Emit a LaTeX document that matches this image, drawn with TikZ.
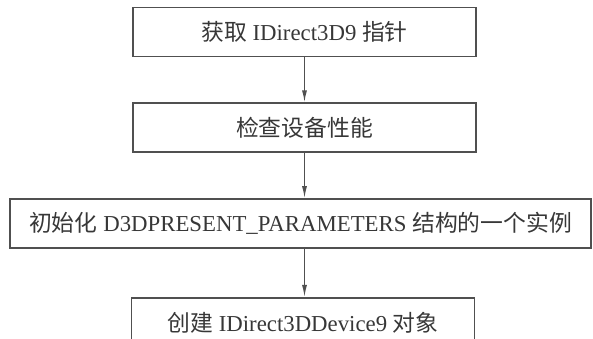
\documentclass[tikz,border=0pt]{standalone}
\usepackage{fontspec}
\setmainfont{Liberation Serif}
\newfontfamily\cjk{Noto Sans CJK SC}
\usepackage{tikz}
\usetikzlibrary{arrows.meta, positioning}
\definecolor{boxline}{RGB}{80,80,80}
\definecolor{boxtext}{RGB}{55,55,55}
\tikzset{
  stepbox/.style={rectangle, draw=boxline, line width=1.8pt,
    minimum width=343pt, minimum height=49pt, inner sep=0pt,
    text=boxtext, font=\fontsize{22.8}{26}\selectfont},
  widebox/.style={stepbox, minimum width=581pt},
  arrow/.style={-{Latex[length=12pt,width=5pt]}, line width=1.3pt, color=boxline}
}

\begin{document}
\begin{tikzpicture}
  \useasboundingbox (0,0) rectangle (593pt,339pt);

  % Steps, top to bottom
  \node[stepbox] (fetch) at (304.5pt, 307pt) {{\cjk 获取} IDirect3D9 {\cjk 指针}};
  \node[stepbox, below=45pt of fetch] (check) {\cjk 检查设备性能};
  \node[widebox, below=45pt of check, xshift=-4pt] (init)
    {{\cjk 初始化} D3DPRESENT\_PARAMETERS {\cjk 结构的一个实例}};
  \node[stepbox, below=48pt of init, xshift=2.5pt] (create)
    {{\cjk 创建} IDirect3DDevice9 {\cjk 对象}};

  % Arrows
  \draw[arrow] (fetch) -- (check);
  \draw[arrow] (check.south) -- (check.south |- init.north);
  \draw[arrow] (check.south |- init.south) -- (check.south |- create.north);
\end{tikzpicture}
\end{document}
